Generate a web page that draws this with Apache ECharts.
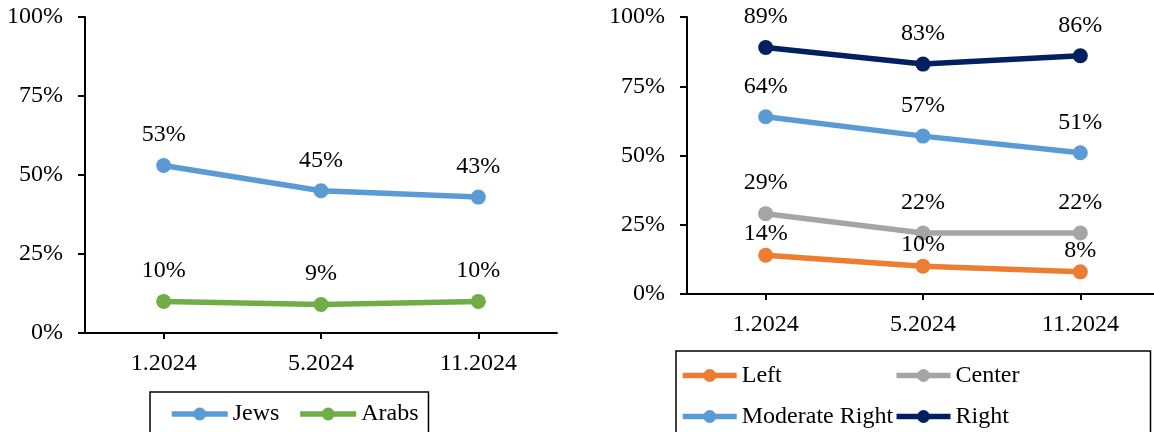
<!DOCTYPE html>
<html>
<head>
<meta charset="utf-8">
<script src="https://cdn.jsdelivr.net/npm/echarts@6/dist/echarts.min.js"></script>
<style>
  html, body { margin: 0; padding: 0; background: #fff; overflow: hidden; }
  /* drawing surface is a little wider than the window so the right panel's
     last category band can run past the visible edge */
  #chart { width: 1166px; height: 432px; }
</style>
</head>
<body>
<div id="chart"></div>
<script>
// Survey waves
const waves = ['1.2024', '5.2024', '11.2024'];
const yTicks = [0, 25, 50, 75, 100];

// Left panel: by population group (%)
const jews = [53, 45, 43];
const arabs = [10, 9, 10];

// Right panel: by political camp (%)
const leftCamp = [14, 10, 8];
const centerCamp = [29, 22, 22];
const moderateRight = [64, 57, 51];
const rightCamp = [89, 83, 86];

const FONT = 'Liberation Serif';
const FS = 24;
const LINE_W = 5.5;

function yAxisFor(gridIndex) {
  return {
    type: 'value', gridIndex: gridIndex,
    min: yTicks[0], max: yTicks[yTicks.length - 1], interval: yTicks[1] - yTicks[0],
    axisLine: { show: true, lineStyle: { color: '#000', width: 2 } },
    axisTick: { show: true, length: 7, lineStyle: { color: '#000', width: 2 } },
    splitLine: { show: false },
    axisLabel: { formatter: '{value}%', color: '#000', fontFamily: FONT, fontSize: FS, margin: 22 }
  };
}
function xAxisFor(gridIndex) {
  return {
    type: 'category', gridIndex: gridIndex, data: waves, boundaryGap: true,
    axisLine: { show: true, lineStyle: { color: '#000', width: 2 } },
    axisTick: { show: true, alignWithLabel: true, length: 6, lineStyle: { color: '#000', width: 2 } },
    axisLabel: { color: '#000', fontFamily: FONT, fontSize: FS, margin: 19 }
  };
}
function lineSeries(name, values, color, gridIndex, labelDistance) {
  return {
    name: name, type: 'line', data: values,
    xAxisIndex: gridIndex, yAxisIndex: gridIndex,
    symbol: 'circle', symbolSize: 15,
    lineStyle: { color: color, width: LINE_W },
    itemStyle: { color: color },
    label: {
      show: true, position: 'top', distance: labelDistance,
      formatter: '{c}%', color: '#000', fontFamily: FONT, fontSize: FS
    },
    animation: false
  };
}

const legendText = { color: '#000', fontFamily: FONT, fontSize: FS };

const option = {
  backgroundColor: '#fff',
  animation: false,
  grid: [
    { left: 85, width: 472, top: 17, bottom: 99 },
    { left: 687, width: 472, top: 17, bottom: 138 }
  ],
  xAxis: [xAxisFor(0), xAxisFor(1)],
  yAxis: [yAxisFor(0), yAxisFor(1)],
  legend: [
    {
      data: ['Jews', 'Arabs'],
      left: 150, top: 392, orient: 'horizontal',
      itemWidth: 56, itemHeight: 16, itemGap: 18,
      borderColor: '#000', borderWidth: 1.5,
      padding: [4, 10, 20, 19],
      lineStyle: { width: LINE_W },
      textStyle: Object.assign({ lineHeight: 36 }, legendText)
    },
    {
      data: ['Left', 'Center', 'Moderate Right', 'Right'],
      left: 676, top: 351, orient: 'horizontal', width: 440,
      itemWidth: 54, itemHeight: 16, itemGap: 0,
      borderColor: '#000', borderWidth: 1.5,
      padding: [4, 43, 20, 4],
      lineStyle: { width: LINE_W },
      textStyle: Object.assign({ lineHeight: 41, width: 152 }, legendText)
    }
  ],
  series: [
    lineSeries('Jews', jews, '#5B9BD5', 0, 11),
    lineSeries('Arabs', arabs, '#70AD47', 0, 11),
    lineSeries('Left', leftCamp, '#ED7D31', 1, 2),
    lineSeries('Center', centerCamp, '#A5A5A5', 1, 11),
    lineSeries('Moderate Right', moderateRight, '#5B9BD5', 1, 11),
    lineSeries('Right', rightCamp, '#002060', 1, 11)
  ]
};

const chart = echarts.init(document.getElementById('chart'), null, { renderer: 'canvas' });
chart.setOption(option);
</script>
</body>
</html>
